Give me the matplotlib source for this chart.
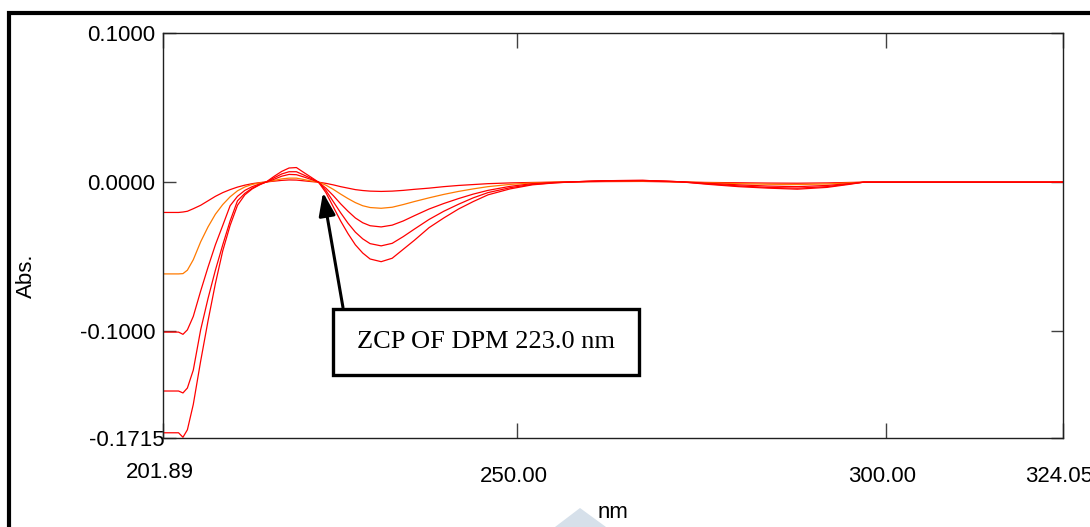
import matplotlib
matplotlib.use("Agg")
import matplotlib.pyplot as plt
from matplotlib.patches import Rectangle, Polygon
from matplotlib.transforms import ScaledTranslation

plt.rcParams['font.family'] = ['Liberation Sans', 'DejaVu Sans']

# Wavelength grid (nm) shared by all derivative spectra
wavelength = [201.89, 204.0, 204.6, 205.2, 206.0, 207.0, 208.0, 209.0, 210.0, 211.0,
              212.0, 213.0, 214.0, 215.0, 216.0, 217.0, 218.0, 219.0, 220.0, 221.0,
              222.0, 223.0, 224.0, 225.0, 226.0, 227.0, 228.0, 229.0, 230.0, 231.5,
              233.0, 234.5, 236.0, 238.0, 240.0, 242.0, 244.0, 246.0, 249.0, 252.0,
              255.0, 258.0, 262.0, 267.0, 272.0, 276.0, 280.0, 284.0, 288.0, 292.0,
              295.0, 297.0, 324.05]

# Derivative absorbance, lowest to highest concentration
abs_1 = [-0.0203, -0.0203, -0.0200, -0.0195, -0.0178, -0.0155, -0.0125, -0.0095, -0.0070, -0.0050,
         -0.0033, -0.0020, -0.0010, -0.0003, 0.0002, 0.0007, 0.0012, 0.0015, 0.0014, 0.0009,
         0.0004, 0.0000, -0.0008, -0.0018, -0.0030, -0.0040, -0.0050, -0.0056, -0.0060, -0.0062,
         -0.0060, -0.0055, -0.0048, -0.0040, -0.0030, -0.0022, -0.0016, -0.0010, -0.0005, -0.0002,
         0.0000, 0.0002, 0.0004, 0.0005, 0.0001, -0.0002, -0.0004, -0.0006, -0.0007, -0.0005,
         -0.0002, 0.0000, 0.0000]
abs_2 = [-0.0615, -0.0615, -0.0613, -0.0590, -0.0520, -0.0400, -0.0300, -0.0215, -0.0150, -0.0098,
         -0.0058, -0.0032, -0.0015, -0.0005, 0.0002, 0.0012, 0.0022, 0.0027, 0.0027, 0.0018,
         0.0008, 0.0000, -0.0020, -0.0048, -0.0080, -0.0110, -0.0137, -0.0158, -0.0170, -0.0175,
         -0.0168, -0.0150, -0.0130, -0.0105, -0.0082, -0.0062, -0.0045, -0.0030, -0.0015, -0.0005,
         0.0000, 0.0003, 0.0006, 0.0008, 0.0002, -0.0004, -0.0010, -0.0014, -0.0016, -0.0012,
         -0.0005, 0.0000, 0.0000]
abs_3 = [-0.1005, -0.1005, -0.1020, -0.0990, -0.0900, -0.0730, -0.0570, -0.0420, -0.0290, -0.0158,
         -0.0095, -0.0055, -0.0030, -0.0012, 0.0002, 0.0020, 0.0040, 0.0052, 0.0050, 0.0035,
         0.0018, 0.0000, -0.0040, -0.0090, -0.0145, -0.0195, -0.0240, -0.0272, -0.0292, -0.0300,
         -0.0288, -0.0260, -0.0225, -0.0180, -0.0143, -0.0110, -0.0080, -0.0055, -0.0028, -0.0010,
         -0.0002, 0.0003, 0.0008, 0.0010, 0.0003, -0.0008, -0.0018, -0.0026, -0.0030, -0.0022,
         -0.0010, 0.0000, 0.0000]
abs_4 = [-0.1400, -0.1400, -0.1413, -0.1380, -0.1260, -0.0990, -0.0780, -0.0590, -0.0420, -0.0260,
         -0.0125, -0.0075, -0.0040, -0.0016, 0.0003, 0.0030, 0.0055, 0.0070, 0.0070, 0.0048,
         0.0025, 0.0000, -0.0055, -0.0130, -0.0205, -0.0275, -0.0335, -0.0380, -0.0412, -0.0427,
         -0.0410, -0.0365, -0.0315, -0.0250, -0.0195, -0.0148, -0.0105, -0.0070, -0.0037, -0.0015,
         -0.0004, 0.0003, 0.0010, 0.0012, 0.0003, -0.0012, -0.0025, -0.0035, -0.0040, -0.0030,
         -0.0012, 0.0000, 0.0000]
abs_5 = [-0.1680, -0.1680, -0.1710, -0.1660, -0.1490, -0.1200, -0.0930, -0.0680, -0.0460, -0.0290,
         -0.0155, -0.0085, -0.0045, -0.0018, 0.0005, 0.0040, 0.0072, 0.0095, 0.0098, 0.0065,
         0.0033, 0.0000, -0.0070, -0.0165, -0.0260, -0.0345, -0.0420, -0.0475, -0.0515, -0.0533,
         -0.0510, -0.0450, -0.0390, -0.0305, -0.0240, -0.0180, -0.0130, -0.0085, -0.0045, -0.0018,
         -0.0005, 0.0003, 0.0010, 0.0012, 0.0003, -0.0015, -0.0030, -0.0040, -0.0047, -0.0035,
         -0.0015, 0.0000, 0.0000]

spectra = [abs_1, abs_2, abs_3, abs_4, abs_5]
colors = ['#ff0000', '#ff7a00', '#ff0000', '#ff0000', '#ff0000']

x_ticks = [201.89, 250.00, 300.00, 324.05]
x_labels = ['201.89', '250.00', '300.00', '324.05']
y_ticks = [0.1, 0.0, -0.1, -0.1715]
y_labels = ['0.1000', '0.0000', '-0.1000', '-0.1715']

W, H = 1090, 527
fig = plt.figure(figsize=(W / 100, H / 100), dpi=100)
ax = fig.add_axes([163 / W, (H - 438) / H, 900 / W, 405 / H])

for vals, c in zip(spectra, colors):
    ax.plot(wavelength, vals, color=c, lw=0.9)

ax.set_xlim(201.89, 324.05)
ax.set_ylim(-0.1715, 0.1)
ax.set_xticks(x_ticks)
ax.set_xticklabels(x_labels)
ax.set_yticks(y_ticks)
ax.set_yticklabels(y_labels)
ax.tick_params(direction='in', top=True, right=True, labelsize=16,
               color='#404040', width=1.0)
ax.tick_params(axis='x', length=11, pad=20)
ax.tick_params(axis='y', length=9, pad=5.5)
for s in ax.spines.values():
    s.set_linewidth(1.0)
    s.set_color('#202020')

# nudge labels the way the instrument software places them
for i, lab in enumerate(ax.get_xticklabels()):
    dy = 4 / 100 if i == 0 else 0
    lab.set_transform(lab.get_transform() + ScaledTranslation(-3.5 / 100, dy, fig.dpi_scale_trans))
ylab = ax.get_yticklabels()[-1]
ylab.set_transform(ylab.get_transform() + ScaledTranslation(9 / 100, 0, fig.dpi_scale_trans))

fig.text(613 / W, 1 - 518 / H, 'nm', fontsize=16, ha='center', va='baseline')
fig.text(26 / W, 1 - 276 / H, 'Abs.', fontsize=16, rotation=90, ha='center', va='center')

# annotation box with arrow to the zero-crossing point
ax.add_patch(Rectangle((224.93, -0.1293), 266.52 - 224.93, 0.1293 - 0.0847,
                       fc='white', ec='black', lw=2.4, zorder=5))
ax.text(245.7, -0.107, 'ZCP OF DPM 223.0 nm', fontsize=19, family='Liberation Serif',
        ha='center', va='center', zorder=6)
ax.annotate('', xy=(223.61, -0.0069), xytext=(226.32, -0.0840),
            arrowprops=dict(arrowstyle='-|>,head_length=1.4,head_width=0.5',
                            mutation_scale=10, lw=2.2, color='black',
                            shrinkA=0, shrinkB=0), zorder=6)

# outer frame and faint mark at the bottom edge
fig.add_artist(Rectangle((8.7 / W, -0.1), 1.2, 1 - 13 / H + 0.1, transform=fig.transFigure,
                         fill=False, ec='black', lw=3.0, clip_on=False))
fig.add_artist(Polygon([(555 / W, 0), (580 / W, 1 - 508 / H), (606 / W, 0)],
                       closed=True, transform=fig.transFigure, fc='#d6e0ea', ec='none'))

fig.savefig('out.png', dpi=100)
